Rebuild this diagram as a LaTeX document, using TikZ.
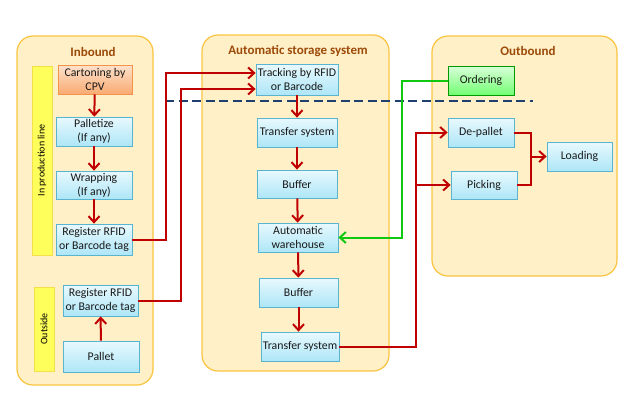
\documentclass[tikz,border=0pt]{standalone}
\usepackage{fontspec}
\setmainfont{Carlito}
\usetikzlibrary{arrows.meta}
\definecolor{redl}{HTML}{C00000}
\definecolor{greenl}{HTML}{10C810}
\definecolor{dashc}{HTML}{1F3F6F}
\definecolor{contfill}{HTML}{FFF0C8}
\definecolor{contdraw}{HTML}{F9C440}
\definecolor{titlec}{HTML}{9C4A08}
\definecolor{boxdraw}{HTML}{5AB4D0}
\definecolor{boxtop}{HTML}{E8F9FE}
\definecolor{boxbot}{HTML}{AEE6F7}
\definecolor{orgtop}{HTML}{FDE2CC}
\definecolor{orgbot}{HTML}{F9AA72}
\definecolor{orgdraw}{HTML}{F5934A}
\definecolor{barfill}{HTML}{FFFF5C}
\definecolor{bardraw}{HTML}{F4E04A}
\begin{document}
\begin{tikzpicture}[x=1pt,y=-1pt,
  container/.style={draw=contdraw, line width=1.2pt, fill=contfill, rounded corners=16pt},
  ctitle/.style={font=\fontsize{13}{15}\selectfont\bfseries, text=titlec},
  bar/.style={draw=bardraw, line width=0.8pt, fill=barfill, inner sep=0pt},
  bartext/.style={font=\fontsize{10}{12}\selectfont, rotate=90, text=black},
  procbox/.style={draw=boxdraw, line width=0.8pt, top color=boxtop, bottom color=boxbot, align=center, inner sep=1pt, font=\fontsize{11.8}{14}\selectfont, text=black!90},
  orangebox/.style={procbox, draw=orgdraw, top color=orgtop, bottom color=orgbot},
  greenbox/.style={procbox, draw=green!60!black, top color=green!15, bottom color=green!55},
  arr/.style={draw=redl, line width=2pt, -{Straight Barb[length=6pt,width=11pt]}},
  rline/.style={draw=redl, line width=2pt},
  garr/.style={draw=greenl, line width=2pt, -{Straight Barb[length=6pt,width=11pt]}},
  sep/.style={draw=dashc, line width=2.4pt, dash pattern=on 9pt off 4.5pt}]
\useasboundingbox (0,0) rectangle (637,407);
\fill[white] (0,0) rectangle (637,407);
% containers
\draw[container] (17,36) rectangle (153,385);
\draw[container] (202,35) rectangle (389,371);
\draw[container] (432,36) rectangle (617,276);
\node[ctitle] (tin) at (93,52) {Inbound};
\node[ctitle] (tas) at (298,51) {Automatic storage system};
\node[ctitle] (tout) at (528,51) {Outbound};
% side bars
\node[bar, minimum width=20, minimum height=189] (bar1) at (42,160.5) {};
\node[bartext] (bt1) at (bar1.center) {In production line};
\node[bar, minimum width=20, minimum height=84] (bar2) at (44,329) {};
\node[bartext] (bt2) at (bar2.center) {Outside};
% inbound boxes
\node[orangebox, minimum width=74, minimum height=29] (cart) at (95,79.5) {Cartoning by\\CPV};
\node[procbox, minimum width=76, minimum height=29] (pal) at (94,131.5) {Palletize\\(If any)};
\node[procbox, minimum width=76, minimum height=28] (wrap) at (94,185) {Wrapping\\(If any)};
\node[procbox, minimum width=76, minimum height=31] (reg1) at (94,239.5) {Register RFID\\or Barcode tag};
\node[procbox, minimum width=75, minimum height=31] (reg2) at (100.5,300.5) {Register RFID\\or Barcode tag};
\node[procbox, minimum width=76, minimum height=31] (pallet) at (101,356.5) {Pallet};
% storage boxes
\node[procbox, minimum width=82, minimum height=31] (trk) at (297,79.5) {Tracking by RFID\\or Barcode};
\node[procbox, minimum width=80, minimum height=29] (ts1) at (297,132.5) {Transfer system};
\node[procbox, minimum width=80, minimum height=28] (buf1) at (297,184) {Buffer};
\node[procbox, minimum width=80, minimum height=29] (aw) at (298,237.5) {Automatic\\warehouse};
\node[procbox, minimum width=79, minimum height=29] (buf2) at (298.5,292.5) {Buffer};
\node[procbox, minimum width=78, minimum height=29] (ts2) at (300,346.5) {Transfer system};
% outbound boxes
\node[greenbox, minimum width=66, minimum height=29] (ord) at (481,80.5) {Ordering};
\node[procbox, minimum width=66, minimum height=29] (dep) at (481,132.5) {De-pallet};
\node[procbox, minimum width=66, minimum height=28] (pick) at (484,185) {Picking};
\node[procbox, minimum width=65, minimum height=29] (load) at (579.5,156.5) {Loading};
% separator
\draw[sep] (165,101) -- (533,101);
% vertical arrows
\draw[arr] (cart) -- (pal);
\draw[arr] (pal) -- (wrap);
\draw[arr] (wrap) -- (reg1);
\draw[arr] (pallet) -- (reg2);
\draw[arr] (trk.south -| ts1.north) -- (ts1);
\draw[arr] (ts1) -- (buf1);
\draw[arr] (buf1) -- (aw);
\draw[arr] (aw) -- (buf2);
\draw[arr] (buf2.south) -- (buf2.south |- ts2.north);
% buses
\coordinate (bus1) at (166,0);
\coordinate (bus2) at (181,0);
\coordinate (bus3) at (416,0);
\coordinate (bus4) at (531,0);
\coordinate (gbus) at (402,0);
\draw[arr] (reg1.east) -| (bus1 |- 0,73) -- ([yshift=6.5pt]trk.west);
\draw[arr] (reg2.east) -| (bus2 |- 0,89) -- ([yshift=-9.5pt]trk.west);
\draw[arr] (ts2.east) -| (bus3 |- dep.west) -- (dep.west);
\draw[arr] (bus3 |- pick.west) -- (pick.west);
\draw[rline] (dep.east) -| (bus4 |- pick.east) -- (pick.east);
\draw[arr] (bus4 |- load.west) -- (load.west);
\draw[garr] (ord.west) -| (gbus |- aw.east) -- (aw.east);
\end{tikzpicture}
\end{document}
